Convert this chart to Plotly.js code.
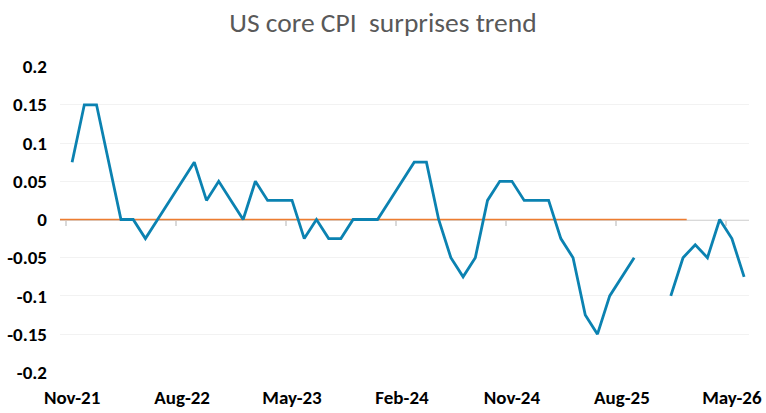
<!DOCTYPE html>
<html>
<head>
<meta charset="utf-8">
<script src="https://cdn.plot.ly/plotly-3.0.1.min.js"></script>
<style>
  html, body { margin: 0; padding: 0; background: #ffffff; }
  #graph { width: 766px; height: 413px; }
</style>
</head>
<body>
<div id="graph"></div>
<script>
// monthly categories, Nov-21 .. Jun-26
const months = [
  "Nov-21", "Dec-21", "Jan-22", "Feb-22", "Mar-22", "Apr-22", "May-22", "Jun-22", "Jul-22", "Aug-22",
  "Sep-22", "Oct-22", "Nov-22", "Dec-22", "Jan-23", "Feb-23", "Mar-23", "Apr-23", "May-23", "Jun-23",
  "Jul-23", "Aug-23", "Sep-23", "Oct-23", "Nov-23", "Dec-23", "Jan-24", "Feb-24", "Mar-24", "Apr-24",
  "May-24", "Jun-24", "Jul-24", "Aug-24", "Sep-24", "Oct-24", "Nov-24", "Dec-24", "Jan-25", "Feb-25",
  "Mar-25", "Apr-25", "May-25", "Jun-25", "Jul-25", "Aug-25", "Sep-25", "Oct-25", "Nov-25", "Dec-25",
  "Jan-26", "Feb-26", "Mar-26", "Apr-26", "May-26", "Jun-26"
];

// core CPI surprise (actual - consensus), null = no print
const surprise = [
  0.075, 0.15, 0.15, 0.075, 0, 0, -0.025, 0, 0.025, 0.05,
  0.075, 0.025, 0.05, 0.025, 0, 0.05, 0.025, 0.025, 0.025, -0.025,
  0, -0.025, -0.025, 0, 0, 0, 0.025, 0.05, 0.075, 0.075,
  0, -0.05, -0.075, -0.05, 0.025, 0.05, 0.05, 0.025, 0.025, 0.025,
  -0.025, -0.05, -0.125, -0.15, -0.1, -0.075, -0.05, null, null, -0.1,
  -0.05, -0.033, -0.05, 0, -0.025, -0.075
];

// orange zero reference line (x span in month index, y value)
const zeroRefX = [-0.99, 50.3];
const zeroRefY = [0, 0];

const xLabels = ["Nov-21", "Aug-22", "May-23", "Feb-24", "Nov-24", "Aug-25", "May-26"];
const yTicks = [0.2, 0.15, 0.1, 0.05, 0, -0.05, -0.1, -0.15, -0.2];
const yTickText = ["0.2", "0.15", "0.1", "0.05", "0", "-0.05", "-0.1", "-0.15", "-0.2"];

const xIdx = months.map((m, i) => i);
const labelIdx = xLabels.map((l) => months.indexOf(l));
const tickIdx = labelIdx.map((i) => i - 0.5);

const FONT = "Carlito, Calibri, Lato, 'Open Sans', sans-serif";

let zeroTrace = {
  type: "scatter",
  mode: "lines",
  x: zeroRefX,
  y: zeroRefY,
  line: { color: "#ed7d31", width: 1.5 },
  hoverinfo: "skip",
};

let trace = {
  type: "scatter",
  mode: "lines",
  x: xIdx,
  y: surprise,
  connectgaps: false,
  line: { color: "#0b82b1", width: 2.8 },
  hoverinfo: "x+y",
};

// invisible trace so the label axis is drawn
let labelTrace = {
  type: "scatter",
  mode: "lines",
  x: xIdx,
  y: surprise,
  xaxis: "x2",
  line: { color: "rgba(0,0,0,0)", width: 0 },
  hoverinfo: "skip",
};

let layout = {
  width: 766,
  height: 413,
  paper_bgcolor: "#ffffff",
  plot_bgcolor: "#ffffff",
  showlegend: false,
  title: {
    text: "US core CPI&nbsp; surprises trend",
    x: 0.5,
    xanchor: "center",
    y: 0.945,
    yanchor: "middle",
    font: { family: FONT, size: 27.5, color: "#595959" },
  },
  xaxis: {
    range: [-0.99, 55.4],
    anchor: "free",
    position: 0.5,
    layer: "below traces",
    showgrid: false,
    zeroline: false,
    showline: true,
    linecolor: "#d9d9d9",
    linewidth: 1.5,
    tickmode: "array",
    tickvals: tickIdx,
    showticklabels: false,
    ticks: "outside",
    ticklen: 5,
    tickwidth: 1.5,
    tickcolor: "#d9d9d9",
  },
  xaxis2: {
    overlaying: "x",
    matches: "x",
    anchor: "y",
    side: "bottom",
    showgrid: false,
    zeroline: false,
    showline: false,
    tickmode: "array",
    tickvals: labelIdx,
    ticktext: xLabels,
    ticks: "",
    ticklabelstandoff: 11,
    tickfont: { family: FONT, size: 19, color: "#000000", weight: "bold" },
  },
  yaxis: {
    range: [-0.2008, 0.2008],
    layer: "below traces",
    tickmode: "array",
    tickvals: yTicks,
    ticktext: yTickText,
    showgrid: true,
    gridcolor: "#f2f2f2",
    gridwidth: 1,
    zeroline: false,
    showline: false,
    ticks: "",
    ticklabelstandoff: 12,
    tickfont: { family: FONT, size: 19, color: "#000000", weight: "bold" },
  },
  margin: { l: 60, r: 17, t: 66, b: 40, pad: 0 },
  font: { family: FONT, color: "#000000" },
};

Plotly.newPlot("graph", [zeroTrace, trace, labelTrace], layout, { displayModeBar: false, staticPlot: true });
</script>
</body>
</html>
